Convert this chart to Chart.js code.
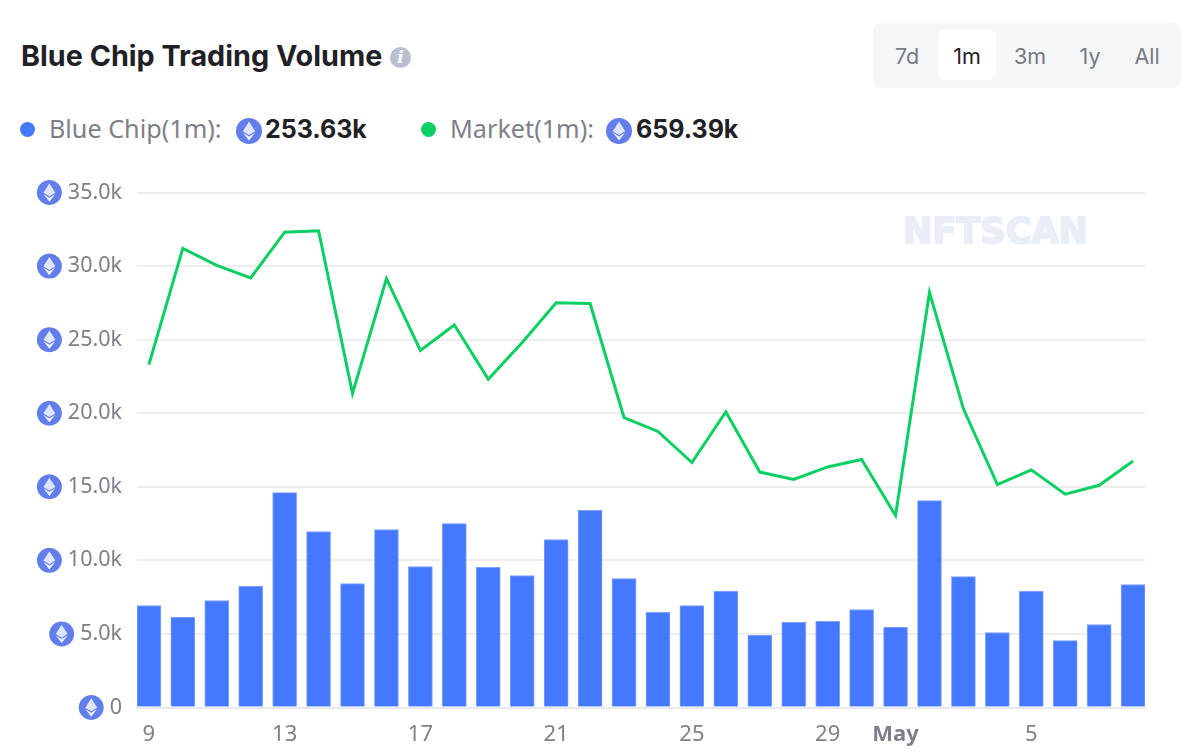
<!DOCTYPE html>
<html>
<head>
<meta charset="utf-8">
<title>Blue Chip Trading Volume</title>
<script src="https://cdn.jsdelivr.net/npm/chart.js@4/dist/chart.umd.min.js"></script>
<style>
    html, body { margin: 0; padding: 0; background: #fff; }
    body { width: 1200px; height: 754px; position: relative; overflow: hidden; }
    .abs { position: absolute; white-space: nowrap; }
    #title { left: 21px; top: 37px; font: 700 28.75px/38px Inter, sans-serif; color: #1f2126; }
    #info { left: 390px; top: 47px; width: 21px; height: 21px; border-radius: 50%; background: #b9bfcf; color: #fff;
        font: italic 700 17px/21px "DejaVu Serif", serif; text-align: center; }
    #range { left: 873px; top: 23px; width: 308px; height: 65px; background: #f5f6f8; border-radius: 8px; }
    #active { left: 938px; top: 30px; width: 58px; height: 50px; background: #fff; border-radius: 8px; }
    .btn { top: 40px; width: 60px; text-align: center; font: 400 21.5px/32px Inter, sans-serif; color: #767a83; }
    .dot { width: 15px; height: 15px; border-radius: 50%; top: 121.5px; }
    .lbl { top: 110px; font: 400 25.2px/36px "Noto Sans", sans-serif; color: #7d8088; }
    .val { top: 111px; font: 700 25px/36px Inter, sans-serif; color: #1f2126; }
    .eth { top: 118px; width: 26px; height: 26px; }
    #wrap { left: 0; top: 170px; width: 1200px; height: 584px; }
</style>
</head>
<body>
<div class="abs" id="title">Blue Chip Trading Volume</div>
<div class="abs" id="info">i</div>
<div class="abs" id="range"></div>
<div class="abs" id="active"></div>
<div class="abs btn" style="left:877px">7d</div>
<div class="abs btn" style="left:937px;color:#1f2126">1m</div>
<div class="abs btn" style="left:1000px">3m</div>
<div class="abs btn" style="left:1060px">1y</div>
<div class="abs btn" style="left:1117px">All</div>

<div class="abs dot" style="left:20px;background:#4478ff"></div>
<div class="abs lbl" style="left:49px">Blue Chip(1m):</div>
<svg class="abs eth" style="left:236px" viewBox="0 0 26 26"><circle cx="13" cy="13" r="13" fill="#627eea"/><path d="M13 3.5L6.8 13.2L13 17L19.2 13.2Z" fill="#dfe5fb"/><path d="M6.8 14.6L13 22.5L19.2 14.6L13 18.4Z" fill="#eef1fd"/></svg>
<div class="abs val" style="left:265px">253.63k</div>
<div class="abs dot" style="left:421px;background:#0acf62"></div>
<div class="abs lbl" style="left:450px">Market(1m):</div>
<svg class="abs eth" style="left:606px" viewBox="0 0 26 26"><circle cx="13" cy="13" r="13" fill="#627eea"/><path d="M13 3.5L6.8 13.2L13 17L19.2 13.2Z" fill="#dfe5fb"/><path d="M6.8 14.6L13 22.5L19.2 14.6L13 18.4Z" fill="#eef1fd"/></svg>
<div class="abs val" style="left:636px">659.39k</div>

<div class="abs" id="wrap"><canvas id="volumeChart"></canvas></div>

<script>
// Days in order, starting 9 April, ending 8 May
const days = ['9','10','11','12','13','14','15','16','17','18','19','20','21','22','23','24','25','26','27','28','29','30','May','2','3','4','5','6','7','8'];
const blueChip = [6930,6120,7270,8230,14600,11960,8430,12100,9580,12500,9520,8970,11420,13400,8770,6460,6930,7890,4900,5780,5850,6660,5440,14070,8900,5100,7890,4550,5640,8360];
const market = [23300,31200,30050,29200,32300,32400,21350,29150,24270,26000,22300,24800,27500,27450,19700,18760,16650,20100,16000,15500,16350,16850,13050,28200,20300,15150,16150,14500,15100,16750];
const xTickLabels = ['9','13','17','21','25','29','May','5'];
const yTicks = [0,5000,10000,15000,20000,25000,30000,35000];

function fmtK(v) {
    return v === 0 ? '0' : (v / 1000).toFixed(1) + 'k';
}

const ethCircle = new Path2D('M13 0a13 13 0 1 0 0.01 0Z');
const ethTop = new Path2D('M13 3.5L6.8 13.2L13 17L19.2 13.2Z');
const ethBottom = new Path2D('M6.8 14.6L13 22.5L19.2 14.6L13 18.4Z');

// Watermark behind the marks
const watermark = {
    id: 'watermark',
    beforeDatasetsDraw(chart) {
        const c = chart.ctx;
        c.save();
        c.font = '900 36px "DejaVu Sans", sans-serif';
        c.fillStyle = '#e9edf5';
        c.strokeStyle = '#e9edf5';
        c.lineWidth = 2;
        c.textAlign = 'left';
        c.textBaseline = 'alphabetic';
        c.fillText('NFTSCAN', 903, 73, 185);
        c.strokeText('NFTSCAN', 903, 73, 185);
        c.restore();
    }
};

// Eth icon in front of each y label
const ethIcons = {
    id: 'ethIcons',
    afterDraw(chart) {
        const c = chart.ctx;
        const y = chart.scales.y;
        c.save();
        c.font = '400 21.5px "Noto Sans", sans-serif';
        yTicks.forEach(t => {
            const w = c.measureText(fmtK(t)).width;
            const right = y.right - 15 - w - 6;
            c.save();
            c.translate(right - 25, y.getPixelForValue(t) - 12.5);
            c.scale(25 / 26, 25 / 26);
            c.fillStyle = '#627eea';
            c.fill(ethCircle);
            c.fillStyle = '#dfe5fb';
            c.fill(ethTop);
            c.fillStyle = '#eef1fd';
            c.fill(ethBottom);
            c.restore();
        });
        c.restore();
    }
};

new Chart(document.getElementById('volumeChart').getContext('2d'), {
    data: {
        datasets: [
            {
                type: 'line',
                label: 'Market',
                data: market.map((v, i) => ({ x: i, y: v })),
                borderColor: '#0acf62',
                borderWidth: 3,
                pointRadius: 0,
                tension: 0,
                order: 1
            },
            {
                type: 'bar',
                label: 'Blue Chip',
                data: blueChip.map((v, i) => ({ x: i, y: v })),
                backgroundColor: '#4478ff',
                borderColor: '#7ba0ff',
                borderWidth: { top: 1, left: 1, right: 1, bottom: 0 },
                barThickness: 24,
                order: 2
            }
        ]
    },
    options: {
        responsive: true,
        maintainAspectRatio: false,
        animation: false,
        layout: { padding: { top: 22.5, right: 55, left: 0, bottom: 0 } },
        plugins: { legend: { display: false }, tooltip: { enabled: false } },
        scales: {
            x: {
                type: 'linear',
                offset: false,
                min: -0.35,
                max: days.length - 1 + 0.35,
                afterBuildTicks(scale) {
                    scale.ticks = xTickLabels.map(d => ({ value: days.indexOf(d) }));
                },
                afterFit(scale) {
                    scale.height = 46.5;
                    scale.paddingLeft = 0;
                    scale.paddingRight = 0;
                },
                grid: { display: false, drawTicks: false },
                border: { color: '#e8e9ec', width: 2 },
                ticks: {
                    autoSkip: false,
                    maxRotation: 0,
                    padding: 14,
                    color: '#7d8088',
                    callback: v => days[v],
                    font: ctx => ({
                        family: '"Noto Sans", sans-serif',
                        size: 22,
                        weight: ctx.tick && days[ctx.tick.value] === 'May' ? '700' : '400'
                    })
                }
            },
            y: {
                min: 0,
                max: 35000,
                afterBuildTicks(scale) { scale.ticks = yTicks.map(v => ({ value: v })); },
                afterFit(scale) {
                    scale.width = 137;
                    scale.paddingTop = 0;
                    scale.paddingBottom = 0;
                },
                grid: { color: '#eceded', lineWidth: 2, drawTicks: false },
                border: { display: false },
                ticks: {
                    padding: 15,
                    color: '#7d8088',
                    callback: fmtK,
                    font: { family: '"Noto Sans", sans-serif', size: 21.5 }
                }
            }
        }
    },
    plugins: [watermark, ethIcons]
});
</script>
</body>
</html>
